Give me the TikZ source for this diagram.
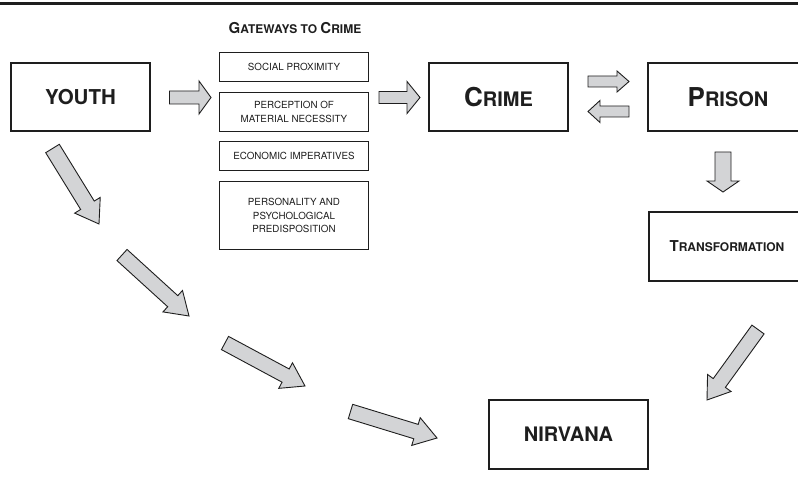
\documentclass[tikz,border=0pt]{standalone}
\usepackage{fontspec}
\setmainfont{TeX Gyre Heros}
\usetikzlibrary{calc,positioning}
\definecolor{ink}{HTML}{1E1E1E}
\definecolor{arrowfill}{HTML}{D3D4D6}
\tikzset{
  stage/.style={
    draw=ink,
    line width=2pt,
    text=ink,
    inner sep=0pt,
    minimum height=68pt,
    align=center,
    font=\bfseries
  },
  gateway/.style={
    draw=ink,
    line width=0.9pt,
    text=ink,
    minimum width=149pt,
    inner sep=0pt,
    align=center,
    font=\fontsize{9.8}{13.5}\selectfont
  },
  blockarrow/.style={
    draw=ink,
    line width=0.9pt,
    fill=arrowfill,
    line join=miter
  }
}
% capital letter followed by smaller capitals
\newcommand{\capword}[4]{%
  {\fontsize{#3}{#3}\selectfont #1}{\fontsize{#4}{#4}\selectfont #2}}
% block arrow: tail, tip, shaft half width, head half width, head length
\newcommand{\blockarrow}[5]{%
  \coordinate (hb) at ($(#2)!#5pt!(#1)$);
  \draw[blockarrow]
    ($(#1)!#3pt!90:(#2)$) -- ($(hb)!#3pt!-90:(#1)$) --
    ($(hb)!#4pt!-90:(#1)$) -- (#2) -- ($(hb)!#4pt!90:(#1)$) --
    ($(hb)!#3pt!90:(#1)$) -- ($(#1)!#3pt!-90:(#2)$) -- cycle;
}

\begin{document}
\begin{tikzpicture}[x=1pt,y=-1pt]

  \useasboundingbox (0,0) rectangle (798,484);
  \clip (0,0) rectangle (798,484);

  % --- Rule on top ---
  \draw[ink, line width=3pt] (0,3.3) -- (798,3.3);

  % --- Main stages ---
  \node[stage, minimum width=139pt] (youth) at (80.5,97)
    {\fontsize{20.5}{20.5}\selectfont YOUTH};
  \node[stage, minimum width=139pt] (crime) at (498.5,97)
    {\capword{C}{RIME}{26}{20}};
  \node[stage, minimum width=160pt] (prison) at (728,97)
    {\capword{P}{RISON}{26}{20}};
  \node[stage, minimum width=157pt, minimum height=69pt] (transformation) at (727,246.5)
    {\capword{T}{RANSFORMATION}{15}{12}};
  \node[stage, minimum width=159pt, minimum height=69pt] (nirvana) at (568.5,434.5)
    {\fontsize{20}{20}\selectfont NIRVANA};

  % --- Gateways to crime ---
  \node[text=ink, font=\bfseries] (gwtitle) at (295,28)
    {\capword{G}{ATEWAYS TO }{15}{12}\capword{C}{RIME}{15}{12}};
  \node[gateway, minimum height=29pt] (social) at (294,67)
    {SOCIAL PROXIMITY};
  \node[gateway, minimum height=39pt] (material) at (294,112)
    {PERCEPTION OF\\MATERIAL NECESSITY};
  \node[gateway, minimum height=29pt] (economic) at (294,156)
    {ECONOMIC IMPERATIVES};
  \node[gateway, minimum height=68pt] (personality) at (294,215.5)
    {PERSONALITY AND\\PSYCHOLOGICAL\\PREDISPOSITION};

  % --- Arrow ends ---
  \coordinate (y2g-s) at (169.5,97.5);
  \coordinate (y2g-t) at (211,97.5);
  \coordinate (g2c-s) at (379,97.5);
  \coordinate (g2c-t) at (420,97.5);
  \coordinate (c2p-s) at (588,81.5);
  \coordinate (c2p-t) at (629,81.5);
  \coordinate (p2c-s) at (629,111.5);
  \coordinate (p2c-t) at (588,111.5);
  \coordinate (p2t-s) at (723,152);
  \coordinate (p2t-t) at (723,192);
  \coordinate (path1-s) at (52.5,148.5);
  \coordinate (path1-t) at (99,224);
  \coordinate (path2-s) at (122,255);
  \coordinate (path2-t) at (189,316);
  \coordinate (path3-s) at (225,343);
  \coordinate (path3-t) at (305,386);
  \coordinate (path4-s) at (350.5,411.5);
  \coordinate (path4-t) at (437,438);
  \coordinate (t2n-s) at (758,329.5);
  \coordinate (t2n-t) at (707,400);

  % --- Block arrows ---
  \blockarrow{y2g-s}{y2g-t}{6.5}{16.5}{12}
  \blockarrow{g2c-s}{g2c-t}{6}{16}{13}
  \blockarrow{c2p-s}{c2p-t}{5.5}{10.5}{12}
  \blockarrow{p2c-s}{p2c-t}{5.5}{11}{12}
  \blockarrow{p2t-s}{p2t-t}{8}{16}{11}
  \blockarrow{path1-s}{path1-t}{8}{15}{22}
  \blockarrow{path2-s}{path2-t}{7.5}{14.5}{22}
  \blockarrow{path3-s}{path3-t}{7.5}{14.5}{22}
  \blockarrow{path4-s}{path4-t}{7.5}{14.5}{22}
  \blockarrow{t2n-s}{t2n-t}{7.5}{14.5}{21}

\end{tikzpicture}
\end{document}
